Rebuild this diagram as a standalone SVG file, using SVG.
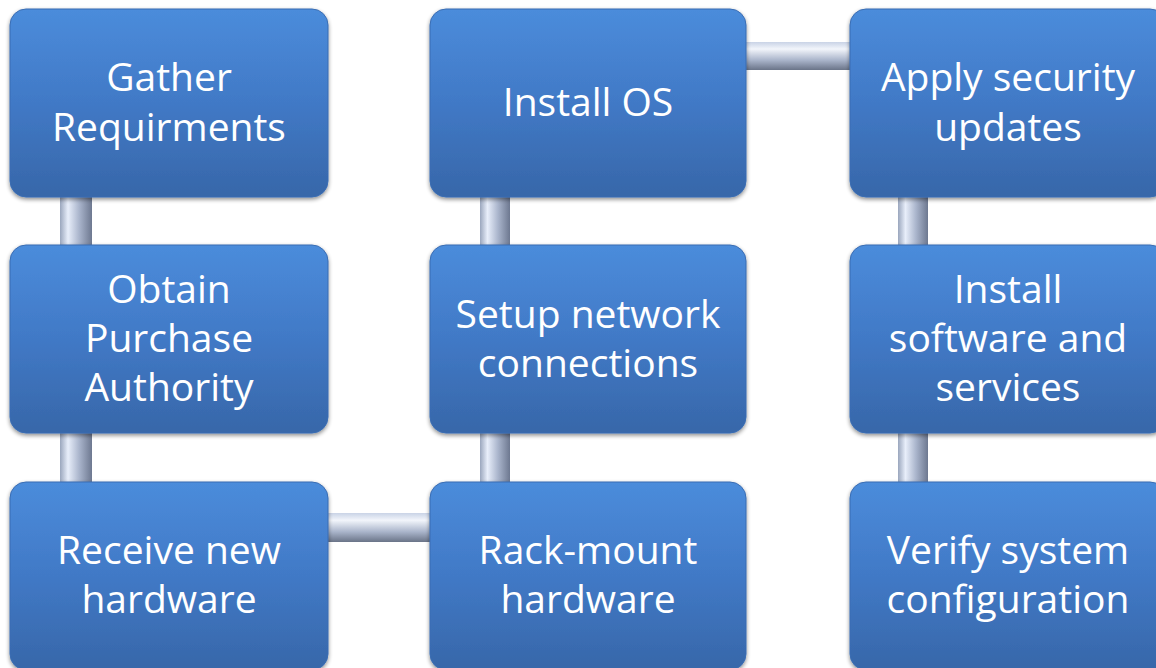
<svg xmlns="http://www.w3.org/2000/svg" width="1156" height="668" viewBox="0 0 1156 668">
  <defs>
    <linearGradient id="boxFill" x1="0" y1="0" x2="0" y2="1">
      <stop offset="0" stop-color="#4b8cdb"/>
      <stop offset="0.5" stop-color="#4179c6"/>
      <stop offset="1" stop-color="#3767a9"/>
    </linearGradient>
    <linearGradient id="pipeV" x1="0" y1="0" x2="1" y2="0">
      <stop offset="0" stop-color="#9aa6bd"/>
      <stop offset="0.25" stop-color="#e8eefa"/>
      <stop offset="0.6" stop-color="#aab5cc"/>
      <stop offset="1" stop-color="#6d7890"/>
    </linearGradient>
    <linearGradient id="pipeH" x1="0" y1="0" x2="0" y2="1">
      <stop offset="0" stop-color="#c9d3e6"/>
      <stop offset="0.25" stop-color="#f2f5fb"/>
      <stop offset="0.65" stop-color="#a9b4ca"/>
      <stop offset="1" stop-color="#6a7488"/>
    </linearGradient>
    <filter id="shade" x="-5%" y="-5%" width="110%" height="115%">
      <feGaussianBlur in="SourceAlpha" stdDeviation="2"/>
      <feOffset dy="2" result="b"/>
      <feComponentTransfer><feFuncA type="linear" slope="0.45"/></feComponentTransfer>
      <feMerge><feMergeNode/><feMergeNode in="SourceGraphic"/></feMerge>
    </filter>
  </defs>
  <style>
    .box { fill: url(#boxFill); stroke: #3a6db3; stroke-width: 1; filter: url(#shade); }
    .lbl { font-family: "Open Sans", "Liberation Sans", sans-serif; font-size: 39px; fill: #ffffff; text-anchor: middle; }
    .pv { fill: url(#pipeV); }
    .ph { fill: url(#pipeH); }
  </style>
  <rect width="1156" height="668" fill="#ffffff"/>

  <!-- pipes joining the steps -->
  <g id="connectors">
    <rect class="pv" x="60" y="190" width="32" height="62"/>
    <rect class="pv" x="60" y="426" width="32" height="62"/>
    <rect class="ph" x="322" y="513" width="114" height="29"/>
    <rect class="pv" x="480" y="426" width="30" height="62"/>
    <rect class="pv" x="480" y="190" width="30" height="62"/>
    <rect class="ph" x="740" y="42" width="116" height="28"/>
    <rect class="pv" x="898" y="190" width="30" height="62"/>
    <rect class="pv" x="898" y="426" width="30" height="62"/>
  </g>

  <g id="gather">
    <rect class="box" x="10" y="9" width="318" height="188" rx="16"/>
    <text class="lbl" x="169" y="91">Gather</text>
    <text class="lbl" x="169" y="141">Requirments</text>
  </g>
  <g id="obtain">
    <rect class="box" x="10" y="245" width="318" height="188" rx="16"/>
    <text class="lbl" x="169" y="303">Obtain</text>
    <text class="lbl" x="169" y="352">Purchase</text>
    <text class="lbl" x="169" y="401">Authority</text>
  </g>
  <g id="receive">
    <rect class="box" x="10" y="482" width="318" height="188" rx="16"/>
    <text class="lbl" x="169" y="564">Receive new</text>
    <text class="lbl" x="169" y="613">hardware</text>
  </g>
  <g id="install-os">
    <rect class="box" x="430" y="9" width="316" height="188" rx="16"/>
    <text class="lbl" x="588" y="116">Install OS</text>
  </g>
  <g id="network">
    <rect class="box" x="430" y="245" width="316" height="188" rx="16"/>
    <text class="lbl" x="588" y="328">Setup network</text>
    <text class="lbl" x="588" y="377">connections</text>
  </g>
  <g id="rack">
    <rect class="box" x="430" y="482" width="316" height="188" rx="16"/>
    <text class="lbl" x="588" y="564">Rack-mount</text>
    <text class="lbl" x="588" y="613">hardware</text>
  </g>
  <g id="security">
    <rect class="box" x="850" y="9" width="316" height="188" rx="16"/>
    <text class="lbl" x="1008" y="91">Apply security</text>
    <text class="lbl" x="1008" y="141">updates</text>
  </g>
  <g id="software">
    <rect class="box" x="850" y="245" width="316" height="188" rx="16"/>
    <text class="lbl" x="1008" y="303">Install</text>
    <text class="lbl" x="1008" y="352">software and</text>
    <text class="lbl" x="1008" y="401">services</text>
  </g>
  <g id="verify">
    <rect class="box" x="850" y="482" width="316" height="188" rx="16"/>
    <text class="lbl" x="1008" y="564">Verify system</text>
    <text class="lbl" x="1008" y="613">configuration</text>
  </g>
</svg>
